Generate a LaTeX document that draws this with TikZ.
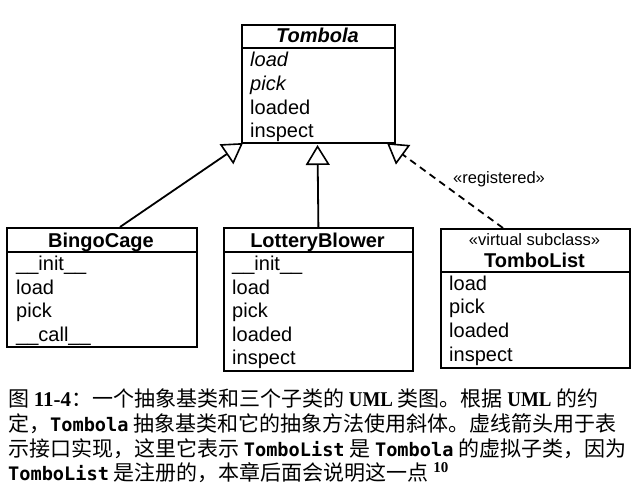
\documentclass[tikz,border=0pt]{standalone}
\usepackage{fontspec}
\setmainfont{Liberation Sans}
\newfontfamily\cjk{Noto Sans CJK SC}
\newfontfamily\capserif{Liberation Serif}
\newfontfamily\umlfont[FakeStretch=0.9]{Liberation Serif}
\newfontfamily\capmono{DejaVu Sans Mono}
\newcommand\mycode[1]{{\capmono\bfseries\fontsize{18.6}{25}\selectfont #1}}
\usetikzlibrary{arrows.meta}
\begin{document}
\begin{tikzpicture}[x=1pt,y=-1pt,
  box/.style={draw, line width=1.8pt, inner sep=0pt, anchor=north west},
  boxline/.style={line width=1.8pt},
  member/.style={anchor=base west, inner sep=0pt, font=\fontsize{20}{24}\selectfont},
  abstractmember/.style={member, font=\fontsize{20}{24}\selectfont\itshape},
  classname/.style={anchor=base, inner sep=0pt, font=\fontsize{20}{24}\selectfont\bfseries},
  stereo/.style={inner sep=0pt, font=\fontsize{16.5}{18}\selectfont},
  inherit/.style={line width=1.8pt, -{Triangle[open, length=20pt, width=24pt, line width=1.6pt]}},
  realize/.style={inherit, dash pattern=on 7pt off 5pt},
  capline/.style={anchor=base west, inner sep=0pt, font=\cjk\fontsize{21}{25}\selectfont},
]
\useasboundingbox (0,0) rectangle (638,485);
\fill[white] (0,0) rectangle (638,485);

% Tombola
\node[box, minimum width=153pt, minimum height=118pt] (tombola) at (241,24) {};
\draw[boxline] (241,48) -- (394,48);
\node[classname, font=\fontsize{20}{24}\selectfont\bfseries\itshape] (tname) at (317.5,42) {Tombola};
\node[abstractmember] (t1) at (250,66) {load};
\node[abstractmember] (t2) at (250,90) {pick};
\node[member] (t3) at (250,114) {loaded};
\node[member] (t4) at (250,137) {inspect};

% BingoCage
\node[box, minimum width=190pt, minimum height=119pt] (bingo) at (6,227) {};
\draw[boxline] (6,252) -- (196,252);
\node[classname] (bname) at (101,247) {BingoCage};
\node[member] (b1) at (16,270) {\_\_init\_\_};
\node[member] (b2) at (16,294) {load};
\node[member] (b3) at (16,317) {pick};
\node[member] (b4) at (16,341) {\_\_call\_\_};

% LotteryBlower
\node[box, minimum width=189pt, minimum height=143pt] (lottery) at (223,227) {};
\draw[boxline] (223,252) -- (412,252);
\node[classname] (lname) at (317.5,247) {LotteryBlower};
\node[member] (l1) at (232,270) {\_\_init\_\_};
\node[member] (l2) at (232,294) {load};
\node[member] (l3) at (232,317) {pick};
\node[member] (l4) at (232,341) {loaded};
\node[member] (l5) at (232,364) {inspect};

% TomboList
\node[box, minimum width=189pt, minimum height=139pt] (tombolist) at (440,228) {};
\draw[boxline] (440,272) -- (629,272);
\node[stereo, anchor=base] (vs) at (534.5,245) {«virtual subclass»};
\node[classname] (tlname) at (534.5,267) {TomboList};
\node[member] (m1) at (449,290) {load};
\node[member] (m2) at (449,313) {pick};
\node[member] (m3) at (449,337) {loaded};
\node[member] (m4) at (449,361) {inspect};

% connectors
\coordinate (tipL) at (243,143);
\coordinate (tipM) at (317.5,145);
\coordinate (tipR) at (387,143);
\coordinate (bingoTop) at (120,227);
\coordinate (tlTop) at (503,228);
\draw[inherit] (bingoTop) -- (tipL);
\draw[inherit] (lottery.north) -- (tipM);
\draw[realize] (tlTop) -- (tipR);
\node[stereo, anchor=base west] (reg) at (453,183) {«registered»};

% caption
\node[capline] (cap1) at (8,406)
{图 {\capserif\bfseries 11-4}：一个抽象基类和三个子类的 {\umlfont\bfseries UML} 类图。根据 {\umlfont\bfseries UML} 的约};
\node[capline] (cap2) at (8,431)
{定，\mycode{Tombola} 抽象基类和它的抽象方法使用斜体。虚线箭头用于表};
\node[capline] (cap3) at (8,456)
{示接口实现，这里它表示 \mycode{TomboList} 是 \mycode{Tombola} 的虚拟子类，因为};
\node[capline] (cap4) at (8,480)
{\mycode{TomboList} 是注册的，本章后面会说明这一点 \raisebox{8pt}{\capserif\bfseries\fontsize{15}{15}\selectfont 10}};
\end{tikzpicture}
\end{document}
